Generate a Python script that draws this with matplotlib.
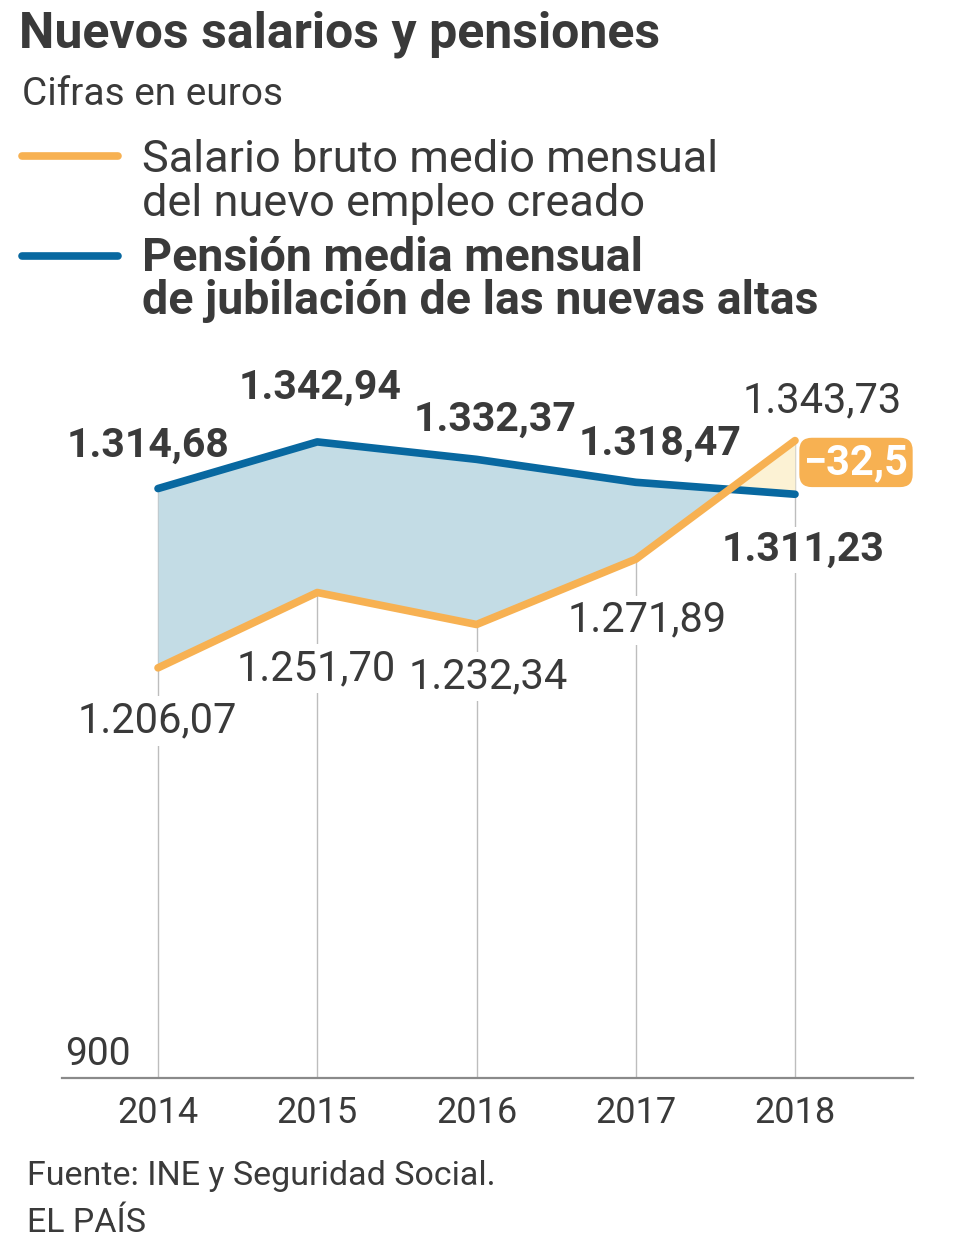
import matplotlib
matplotlib.use('Agg')
import matplotlib.pyplot as plt
import numpy as np

# -------------------------------
# DATOS
# -------------------------------
years = [2014, 2015, 2016, 2017, 2018]
salario = [1206.07, 1251.70, 1232.34, 1271.89, 1343.73]
pension = [1314.68, 1342.94, 1332.37, 1318.47, 1311.23]

# desplazamiento de etiquetas (px) respecto al punto
off_salario = [(-1, -53), (-1, -76), (12, -52), (11, -61), (27, 40)]
off_pension = [(-10, 43), (3, 54), (19, 40), (24, 39), (8, -56)]

ORANGE = '#F7B152'
BLUE = '#0868A0'
TXT = '#3a3a3a'
FONT = 'Roboto'
LIGHT = 'normal'

plt.rcParams['font.family'] = [FONT, 'DejaVu Sans']


def fmt(v):
    s = f"{v:,.2f}"
    return s.replace(',', 'X').replace('.', ',').replace('X', '.')


W, H = 980, 1257
fig = plt.figure(figsize=(W / 100, H / 100), dpi=100)


def fy(y):
    return 1 - y / H


# -------------------------------
# TITULOS Y LEYENDA
# -------------------------------
fig.text(19 / W, fy(47), 'Nuevos salarios y pensiones', fontsize=36,
         fontweight='bold', color=TXT, va='baseline')
fig.text(22 / W, fy(105), 'Cifras en euros', fontsize=28, fontweight=LIGHT,
         color=TXT, va='baseline')

fig.add_artist(plt.Line2D([22 / W, 118 / W], [fy(156), fy(156)], color=ORANGE,
                          lw=5.5, solid_capstyle='round'))
fig.add_artist(plt.Line2D([22 / W, 118 / W], [fy(256), fy(256)], color=BLUE,
                          lw=5.5, solid_capstyle='round'))
fig.text(142 / W, fy(172), 'Salario bruto medio mensual', fontsize=32.5,
         fontweight=LIGHT, color=TXT, va='baseline')
fig.text(142 / W, fy(216), 'del nuevo empleo creado', fontsize=32.5,
         fontweight=LIGHT, color=TXT, va='baseline')
fig.text(142 / W, fy(271), 'Pensión media mensual', fontsize=33.5,
         fontweight='bold', color=TXT, va='baseline')
fig.text(142 / W, fy(314), 'de jubilación de las nuevas altas', fontsize=33.5,
         fontweight='bold', color=TXT, va='baseline')

# -------------------------------
# GRAFICO
# -------------------------------
ax = fig.add_axes([62 / W, fy(1078), (913 - 62) / W, (1078 - 370) / H])
ax.set_xlim(2013.397, 2018.741)
ax.set_ylim(957.6, 1386.5)

ybot = ax.get_ylim()[0]
tops = np.maximum(salario, pension)
ax.vlines(years, ybot, tops, color='#bdbdbd', lw=1, zorder=1)

s = np.array(salario)
p = np.array(pension)
ax.fill_between(years, s, p, where=p >= s, interpolate=True,
                color='#C3DCE5', lw=0, zorder=2)
ax.fill_between(years, s, p, where=s >= p, interpolate=True,
                color='#FCF2D4', lw=0, zorder=2)

ax.plot(years, pension, color=BLUE, lw=5.5, solid_capstyle='round',
        solid_joinstyle='round', zorder=4)
ax.plot(years, salario, color=ORANGE, lw=5.5, solid_capstyle='round',
        solid_joinstyle='round', zorder=5)

for x, v, off in zip(years, salario, off_salario):
    ax.annotate(fmt(v), (x, v), xytext=off, textcoords='offset pixels',
                ha='center', va='center', fontsize=30, fontweight=LIGHT,
                color=TXT, zorder=3,
                bbox=dict(boxstyle='square,pad=0.1', fc='white', ec='none'))

for x, v, off in zip(years, pension, off_pension):
    ax.annotate(fmt(v), (x, v), xytext=off, textcoords='offset pixels',
                ha='center', va='center', fontsize=29.5, fontweight='bold',
                color=TXT, zorder=3,
                bbox=dict(boxstyle='square,pad=0.1', fc='white', ec='none'))

# diferencia final
diff = pension[-1] - salario[-1]
mid = (pension[-1] + salario[-1]) / 2
ax.annotate(('−' + fmt(abs(diff))[:-1]) if diff < 0 else fmt(diff)[:-1],
            (years[-1], mid), xytext=(61, 5), textcoords='offset pixels',
            ha='center', va='center', fontsize=30, fontweight='bold',
            color='white', zorder=6,
            bbox=dict(boxstyle='round,pad=0.1,rounding_size=0.3',
                      fc=ORANGE, ec='none'))

for sp in ['top', 'right', 'left']:
    ax.spines[sp].set_visible(False)
ax.spines['bottom'].set_color('#8a8a8a')
ax.spines['bottom'].set_linewidth(1.6)
ax.set_xticks(years)
ax.set_xticklabels([str(y) for y in years])
ax.set_yticks([])
ax.tick_params(axis='x', length=0, pad=12, labelsize=26, labelcolor=TXT)
for lbl in ax.get_xticklabels():
    lbl.set_fontweight(LIGHT)
ax.text(2013.415, ybot + 3, '900', ha='left', va='bottom',
        fontsize=28, fontweight=LIGHT, color=TXT)
ax.patch.set_alpha(0)

# -------------------------------
# FUENTE
# -------------------------------
fig.text(27 / W, fy(1185), 'Fuente: INE y Seguridad Social.', fontsize=24.5,
         fontweight=LIGHT, color=TXT, va='baseline')
fig.text(27 / W, fy(1232), 'EL PAÍS', fontsize=24.5, fontweight=LIGHT,
         color=TXT, va='baseline')

fig.savefig('out.png', dpi=100)
